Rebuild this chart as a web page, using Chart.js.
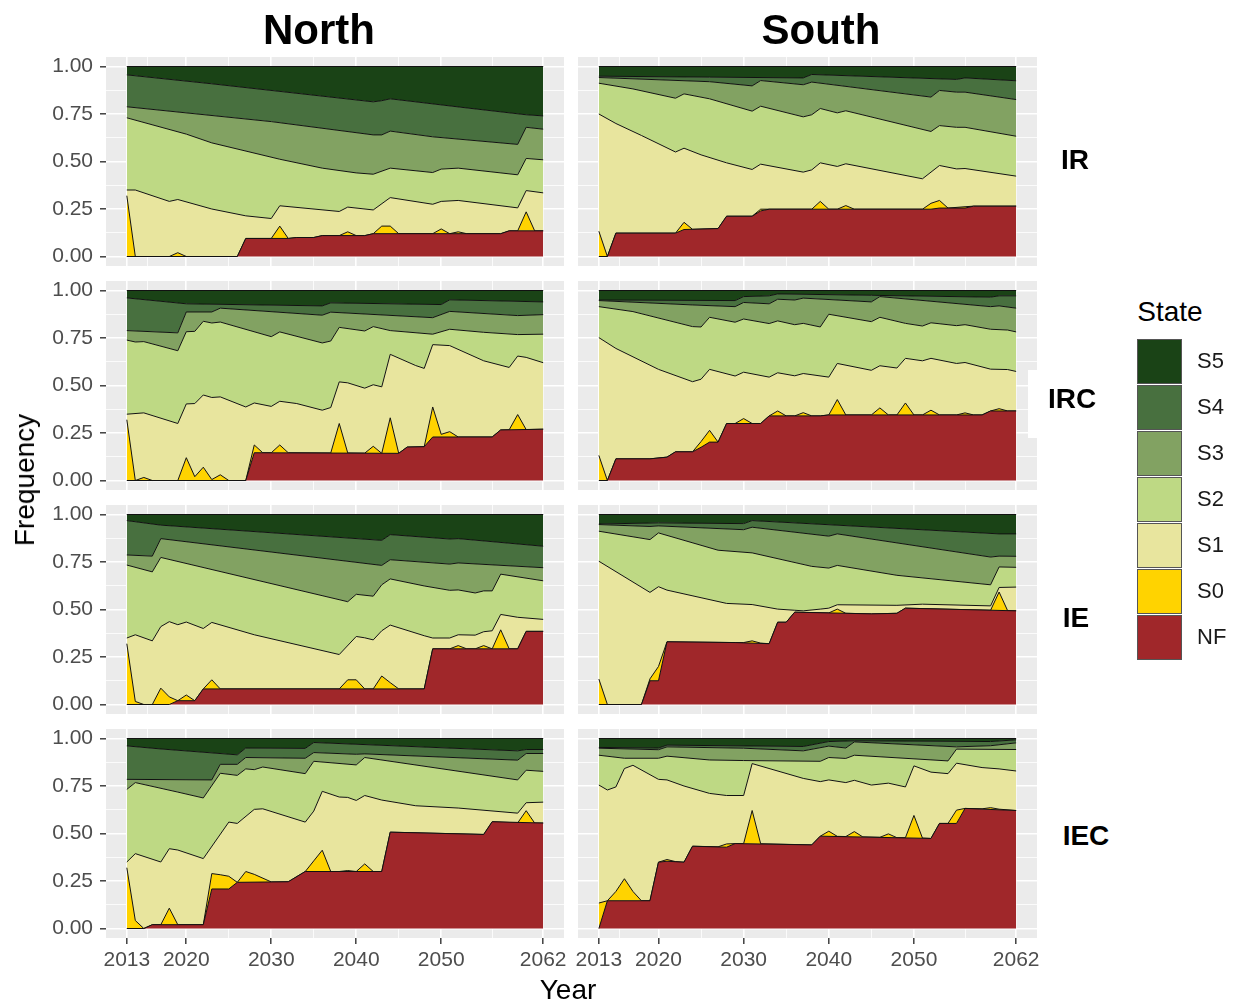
<!DOCTYPE html>
<html>
<head>
<meta charset="utf-8">
<script src="https://cdn.jsdelivr.net/npm/chart.js@4.4.1/dist/chart.umd.min.js"></script>
<style>
  body { margin: 0; background: #fff; width: 1238px; height: 1006px; position: relative; overflow: hidden;
         font-family: "Liberation Sans", Arial, sans-serif; }
  canvas { position: absolute; }
  .t { position: absolute; white-space: nowrap; line-height: 1; transform: translate(-50%, -50%); color: #000; }
  .key { position: absolute; width: 43px; height: 43px; border: 1px solid #555; box-sizing: content-box; }
  .lab { position: absolute; font-size: 22px; line-height: 1; transform: translateY(-50%); color: #1a1a1a; }
</style>
</head>
<body>
<script>
// axis breaks
const YEARS_MAJOR = [2013, 2020, 2030, 2040, 2050, 2062];
const YEARS_MINOR = [2015.4, 2025, 2035, 2045, 2056];
const Y_MAJOR = [0, 0.25, 0.5, 0.75, 1];
const Y_MINOR = [0.125, 0.375, 0.625, 0.875];

const STATES = ['NF', 'S0', 'S1', 'S2', 'S3', 'S4', 'S5'];
const REGIONS = ['North', 'South'];
const SCENARIOS = ['IR', 'IRC', 'IE', 'IEC'];

// each array: [year, upper edge of the state's band] (stacked frequency)
const N_IR_NF = [[2013,0],[2026,0],[2027,0.095],[2032,0.095],[2033,0.10],[2035,0.10],[2036,0.11],[2041,0.11],[2042,0.12],[2057,0.12],[2058,0.135],[2062,0.135]];
const N_IR_S0 = [[2013,0.32],[2014,0],[2018,0],[2019,0.02],[2020,0],[2026,0],[2027,0.095],[2030,0.095],[2031,0.16],[2032,0.095],[2033,0.10],[2035,0.10],[2036,0.11],[2038,0.11],[2039,0.13],[2040,0.11],[2041,0.11],[2042,0.12],[2043,0.16],[2044,0.16],[2045,0.12],[2049,0.12],[2050,0.145],[2051,0.12],[2052,0.13],[2053,0.12],[2057,0.12],[2058,0.135],[2059,0.135],[2060,0.235],[2061,0.135],[2062,0.135]];
const N_IR_S1 = [[2013,0.35],[2014,0.35],[2018,0.29],[2019,0.30],[2023,0.25],[2027,0.214],[2030,0.20],[2031,0.267],[2038,0.237],[2039,0.26],[2042,0.245],[2044,0.31],[2049,0.275],[2050,0.29],[2052,0.295],[2059,0.256],[2060,0.347],[2062,0.335]];
const N_IR_S2 = [[2013,0.73],[2020,0.644],[2023,0.598],[2031,0.512],[2036,0.465],[2040,0.44],[2042,0.433],[2044,0.465],[2049,0.442],[2050,0.46],[2052,0.465],[2059,0.43],[2060,0.516],[2062,0.509]];
const N_IR_S3 = [[2013,0.788],[2030,0.71],[2042,0.64],[2043,0.64],[2044,0.66],[2049,0.63],[2059,0.59],[2060,0.68],[2062,0.67]];
const N_IR_S4 = [[2013,0.956],[2023,0.909],[2042,0.814],[2043,0.82],[2044,0.83],[2053,0.782],[2060,0.746],[2062,0.74]];
const N_IR_S5 = [[2013,1],[2062,1]];

const S_IR_NF = [[2013,0],[2014,0],[2015,0.123],[2022,0.123],[2023,0.142],[2027,0.147],[2028,0.212],[2031,0.212],[2032,0.24],[2033,0.249],[2052,0.249],[2053,0.255],[2056,0.255],[2057,0.265],[2062,0.265]];
const S_IR_S0 = [[2013,0.133],[2014,0],[2015,0.123],[2022,0.123],[2023,0.18],[2024,0.143],[2027,0.147],[2028,0.212],[2031,0.212],[2032,0.249],[2038,0.249],[2039,0.29],[2040,0.249],[2041,0.249],[2042,0.268],[2043,0.249],[2051,0.249],[2052,0.28],[2053,0.295],[2054,0.255],[2056,0.262],[2057,0.265],[2062,0.265]];
const S_IR_S1 = [[2013,0.75],[2015,0.70],[2018,0.637],[2022,0.55],[2023,0.57],[2025,0.535],[2028,0.493],[2031,0.458],[2032,0.486],[2037,0.444],[2038,0.456],[2039,0.493],[2041,0.474],[2042,0.488],[2051,0.409],[2053,0.479],[2055,0.461],[2056,0.463],[2062,0.423]];
const S_IR_S2 = [[2013,0.912],[2017,0.882],[2022,0.833],[2023,0.856],[2026,0.83],[2031,0.765],[2032,0.791],[2037,0.735],[2038,0.746],[2039,0.779],[2041,0.756],[2042,0.767],[2052,0.658],[2053,0.689],[2055,0.68],[2056,0.68],[2062,0.633]];
const S_IR_S3 = [[2013,0.942],[2026,0.92],[2031,0.898],[2032,0.926],[2037,0.904],[2038,0.918],[2052,0.839],[2053,0.874],[2055,0.865],[2056,0.865],[2062,0.826]];
const S_IR_S4 = [[2013,0.949],[2026,0.944],[2037,0.94],[2038,0.958],[2055,0.932],[2056,0.94],[2062,0.925]];
const S_IR_S5 = [[2013,1],[2062,1]];

const N_IRC_NF = [[2013,0],[2027,0],[2028,0.146],[2045,0.143],[2046,0.176],[2048,0.178],[2049,0.229],[2056,0.229],[2057,0.266],[2062,0.27]];
const N_IRC_S0 = [[2013,0.32],[2014,0],[2015,0.016],[2016,0],[2019,0],[2020,0.12],[2021,0.02],[2022,0.07],[2023,0.005],[2024,0.03],[2025,0],[2027,0],[2028,0.187],[2029,0.146],[2030,0.146],[2031,0.187],[2032,0.146],[2037,0.145],[2038,0.30],[2039,0.145],[2041,0.144],[2042,0.18],[2043,0.143],[2044,0.33],[2045,0.143],[2046,0.176],[2048,0.178],[2049,0.387],[2050,0.243],[2051,0.257],[2052,0.229],[2056,0.229],[2057,0.266],[2058,0.267],[2059,0.347],[2060,0.268],[2062,0.27]];
const N_IRC_S1 = [[2013,0.349],[2015,0.356],[2019,0.30],[2020,0.403],[2021,0.405],[2022,0.45],[2023,0.437],[2024,0.44],[2027,0.387],[2028,0.408],[2030,0.39],[2031,0.417],[2033,0.405],[2036,0.37],[2037,0.384],[2038,0.519],[2039,0.514],[2041,0.486],[2042,0.504],[2043,0.493],[2044,0.664],[2047,0.605],[2048,0.59],[2049,0.715],[2051,0.71],[2055,0.63],[2058,0.595],[2059,0.655],[2060,0.648],[2062,0.62]];
const N_IRC_S2 = [[2013,0.739],[2014,0.729],[2015,0.731],[2019,0.683],[2020,0.783],[2021,0.785],[2022,0.838],[2023,0.829],[2024,0.834],[2030,0.757],[2031,0.782],[2036,0.724],[2037,0.734],[2038,0.806],[2041,0.787],[2042,0.81],[2044,0.789],[2049,0.77],[2051,0.796],[2055,0.78],[2059,0.768],[2062,0.77]];
const N_IRC_S3 = [[2013,0.789],[2019,0.777],[2020,0.887],[2023,0.887],[2024,0.907],[2036,0.87],[2037,0.886],[2049,0.857],[2051,0.89],[2059,0.868],[2062,0.873]];
const N_IRC_S4 = [[2013,0.961],[2020,0.93],[2036,0.919],[2037,0.935],[2050,0.926],[2051,0.951],[2062,0.94]];
const N_IRC_S5 = [[2013,1],[2062,1]];

const S_IRC_NF = [[2013,0],[2014,0],[2015,0.114],[2019,0.114],[2021,0.123],[2022,0.151],[2024,0.151],[2025,0.175],[2026,0.202],[2027,0.202],[2028,0.30],[2032,0.30],[2033,0.34],[2039,0.34],[2040,0.345],[2058,0.345],[2059,0.366],[2062,0.366]];
const S_IRC_S0 = [[2013,0.132],[2014,0],[2015,0.114],[2019,0.114],[2021,0.123],[2022,0.151],[2024,0.151],[2025,0.205],[2026,0.264],[2027,0.202],[2028,0.30],[2029,0.30],[2030,0.326],[2031,0.30],[2032,0.30],[2033,0.34],[2034,0.366],[2035,0.34],[2036,0.34],[2037,0.357],[2038,0.34],[2039,0.34],[2040,0.345],[2041,0.426],[2042,0.345],[2045,0.345],[2046,0.382],[2047,0.345],[2048,0.345],[2049,0.408],[2050,0.345],[2051,0.345],[2052,0.37],[2053,0.345],[2055,0.345],[2056,0.356],[2057,0.345],[2058,0.345],[2059,0.366],[2060,0.378],[2061,0.366],[2062,0.366]];
const S_IRC_S1 = [[2013,0.752],[2015,0.695],[2020,0.585],[2024,0.52],[2025,0.533],[2026,0.585],[2029,0.55],[2030,0.57],[2033,0.544],[2034,0.567],[2036,0.551],[2037,0.563],[2040,0.544],[2041,0.616],[2045,0.58],[2046,0.604],[2048,0.592],[2049,0.643],[2051,0.63],[2052,0.643],[2055,0.616],[2056,0.621],[2059,0.586],[2061,0.584],[2062,0.574]];
const S_IRC_S2 = [[2013,0.915],[2017,0.889],[2024,0.81],[2025,0.808],[2026,0.859],[2029,0.833],[2030,0.85],[2033,0.826],[2034,0.84],[2036,0.82],[2037,0.827],[2039,0.808],[2040,0.875],[2045,0.836],[2046,0.859],[2049,0.827],[2051,0.813],[2052,0.83],[2055,0.815],[2056,0.82],[2059,0.796],[2061,0.792],[2062,0.782]];
const S_IRC_S3 = [[2013,0.947],[2024,0.924],[2029,0.915],[2030,0.937],[2033,0.93],[2034,0.954],[2036,0.95],[2037,0.96],[2045,0.94],[2046,0.968],[2059,0.915],[2060,0.919],[2062,0.907]];
const S_IRC_S4 = [[2013,0.95],[2029,0.947],[2030,0.968],[2033,0.972],[2034,0.982],[2045,0.975],[2046,0.974],[2059,0.965],[2060,0.972],[2062,0.972]];
const S_IRC_S5 = [[2013,1],[2062,1]];

const N_IE_NF = [[2013,0],[2018,0],[2019,0.02],[2021,0.02],[2022,0.082],[2048,0.082],[2049,0.293],[2059,0.293],[2060,0.385],[2062,0.385]];
const N_IE_S0 = [[2013,0.32],[2014,0.016],[2015,0],[2016,0],[2017,0.086],[2018,0.04],[2019,0.02],[2020,0.05],[2021,0.02],[2022,0.082],[2023,0.13],[2024,0.082],[2038,0.082],[2039,0.13],[2040,0.13],[2041,0.082],[2042,0.082],[2043,0.15],[2044,0.115],[2045,0.082],[2048,0.082],[2049,0.293],[2051,0.293],[2052,0.31],[2053,0.293],[2054,0.293],[2055,0.31],[2056,0.293],[2057,0.393],[2058,0.293],[2059,0.293],[2060,0.385],[2062,0.385]];
const N_IE_S1 = [[2013,0.35],[2014,0.367],[2016,0.335],[2017,0.41],[2018,0.436],[2019,0.42],[2020,0.434],[2022,0.40],[2023,0.432],[2028,0.367],[2038,0.263],[2040,0.358],[2041,0.351],[2042,0.34],[2043,0.388],[2044,0.418],[2048,0.362],[2049,0.35],[2051,0.35],[2052,0.367],[2054,0.365],[2055,0.383],[2056,0.388],[2057,0.474],[2059,0.459],[2062,0.448]];
const N_IE_S2 = [[2013,0.734],[2016,0.698],[2017,0.774],[2039,0.541],[2040,0.58],[2042,0.57],[2043,0.63],[2044,0.661],[2048,0.624],[2051,0.601],[2052,0.603],[2054,0.587],[2055,0.598],[2056,0.598],[2057,0.686],[2062,0.651]];
const N_IE_S3 = [[2013,0.787],[2016,0.781],[2017,0.873],[2043,0.732],[2044,0.762],[2051,0.739],[2052,0.745],[2062,0.72]];
const N_IE_S4 = [[2013,0.968],[2017,0.944],[2043,0.864],[2044,0.894],[2051,0.871],[2052,0.873],[2062,0.833]];
const N_IE_S5 = [[2013,1],[2062,1]];

const S_IE_NF = [[2013,0],[2018,0],[2019,0.125],[2020,0.125],[2021,0.33],[2029,0.326],[2033,0.32],[2034,0.433],[2035,0.433],[2036,0.486],[2045,0.477],[2048,0.48],[2049,0.507],[2062,0.493]];
const S_IE_S0 = [[2013,0.134],[2014,0],[2018,0],[2019,0.135],[2020,0.2],[2021,0.33],[2029,0.326],[2030,0.326],[2031,0.335],[2032,0.323],[2033,0.32],[2034,0.433],[2035,0.433],[2036,0.486],[2040,0.482],[2041,0.502],[2042,0.48],[2045,0.477],[2048,0.48],[2049,0.507],[2059,0.496],[2060,0.592],[2061,0.494],[2062,0.493]];
const S_IE_S1 = [[2013,0.754],[2019,0.59],[2020,0.62],[2021,0.602],[2028,0.532],[2031,0.526],[2034,0.502],[2036,0.496],[2037,0.493],[2039,0.502],[2040,0.507],[2041,0.525],[2048,0.522],[2051,0.528],[2059,0.519],[2060,0.616],[2062,0.618]];
const S_IE_S2 = [[2013,0.912],[2019,0.868],[2020,0.903],[2027,0.812],[2031,0.798],[2038,0.727],[2040,0.718],[2041,0.732],[2048,0.68],[2059,0.63],[2060,0.724],[2062,0.722]];
const S_IE_S3 = [[2013,0.947],[2019,0.937],[2020,0.94],[2030,0.92],[2031,0.933],[2040,0.886],[2041,0.898],[2059,0.776],[2060,0.781],[2062,0.78]];
const S_IE_S4 = [[2013,0.95],[2020,0.956],[2030,0.952],[2031,0.968],[2060,0.898],[2062,0.898]];
const S_IE_S5 = [[2013,1],[2062,1]];

const N_IEC_NF = [[2013,0],[2015,0],[2016,0.02],[2022,0.02],[2023,0.208],[2025,0.208],[2026,0.243],[2032,0.246],[2034,0.30],[2043,0.30],[2044,0.507],[2055,0.495],[2056,0.562],[2062,0.555]];
const N_IEC_S0 = [[2013,0.32],[2014,0.042],[2015,0],[2016,0.02],[2017,0.02],[2018,0.107],[2019,0.02],[2022,0.02],[2023,0.289],[2024,0.283],[2025,0.275],[2026,0.243],[2027,0.30],[2028,0.285],[2030,0.245],[2032,0.246],[2034,0.30],[2035,0.356],[2036,0.412],[2037,0.30],[2038,0.30],[2039,0.305],[2040,0.30],[2041,0.34],[2042,0.30],[2043,0.30],[2044,0.507],[2055,0.495],[2056,0.562],[2059,0.556],[2060,0.62],[2061,0.555],[2062,0.555]];
const N_IEC_S1 = [[2013,0.35],[2014,0.394],[2017,0.35],[2018,0.42],[2019,0.413],[2022,0.368],[2025,0.56],[2026,0.553],[2028,0.627],[2029,0.63],[2034,0.56],[2035,0.618],[2036,0.722],[2038,0.692],[2039,0.69],[2040,0.674],[2041,0.70],[2043,0.676],[2047,0.646],[2052,0.634],[2059,0.607],[2060,0.662],[2062,0.665]];
const N_IEC_S2 = [[2013,0.732],[2014,0.768],[2019,0.718],[2022,0.687],[2024,0.817],[2026,0.806],[2027,0.84],[2028,0.836],[2029,0.85],[2034,0.815],[2035,0.88],[2040,0.861],[2041,0.90],[2059,0.782],[2060,0.833],[2062,0.827]];
const N_IEC_S3 = [[2013,0.785],[2023,0.782],[2024,0.864],[2026,0.864],[2027,0.90],[2034,0.896],[2035,0.926],[2040,0.917],[2041,0.919],[2059,0.886],[2060,0.921],[2062,0.921]];
const N_IEC_S4 = [[2013,0.961],[2017,0.945],[2026,0.914],[2027,0.95],[2034,0.948],[2035,0.979],[2059,0.935],[2060,0.942],[2062,0.942]];
const N_IEC_S5 = [[2013,1],[2062,1]];

const S_IEC_NF = [[2013,0],[2014,0.146],[2019,0.146],[2020,0.349],[2021,0.354],[2023,0.349],[2024,0.433],[2028,0.428],[2029,0.447],[2038,0.44],[2039,0.486],[2052,0.474],[2053,0.553],[2055,0.553],[2056,0.632],[2062,0.621]];
const S_IEC_S0 = [[2013,0.134],[2014,0.146],[2015,0.195],[2016,0.262],[2017,0.195],[2018,0.146],[2019,0.146],[2020,0.349],[2021,0.363],[2022,0.352],[2023,0.349],[2024,0.433],[2027,0.43],[2028,0.445],[2029,0.447],[2030,0.447],[2031,0.621],[2032,0.446],[2038,0.44],[2039,0.486],[2040,0.512],[2041,0.485],[2042,0.484],[2043,0.51],[2044,0.482],[2046,0.48],[2047,0.498],[2048,0.478],[2049,0.478],[2050,0.595],[2051,0.476],[2052,0.474],[2053,0.553],[2054,0.553],[2055,0.623],[2056,0.632],[2058,0.63],[2059,0.636],[2060,0.628],[2062,0.621]];
const S_IEC_S1 = [[2013,0.755],[2014,0.729],[2015,0.745],[2016,0.842],[2017,0.859],[2020,0.785],[2021,0.782],[2023,0.75],[2026,0.711],[2028,0.70],[2030,0.70],[2031,0.868],[2037,0.79],[2039,0.773],[2040,0.782],[2042,0.768],[2043,0.78],[2045,0.755],[2047,0.765],[2049,0.745],[2050,0.856],[2052,0.823],[2054,0.815],[2055,0.87],[2058,0.847],[2060,0.84],[2062,0.829]];
const S_IEC_S2 = [[2013,0.912],[2016,0.896],[2020,0.896],[2021,0.907],[2026,0.887],[2030,0.884],[2039,0.88],[2040,0.90],[2042,0.895],[2043,0.912],[2054,0.882],[2055,0.944],[2062,0.942]];
const S_IEC_S3 = [[2013,0.949],[2020,0.941],[2021,0.956],[2030,0.949],[2037,0.935],[2040,0.96],[2042,0.95],[2043,0.982],[2055,0.956],[2059,0.962],[2062,0.977]];
const S_IEC_S4 = [[2013,0.953],[2020,0.95],[2021,0.965],[2037,0.958],[2040,0.984],[2043,0.988],[2059,0.984],[2062,0.993]];
const S_IEC_S5 = [[2013,1],[2062,1]];

// rows = scenarios, cols = regions
const PANELS = [
  [[N_IR_NF, N_IR_S0, N_IR_S1, N_IR_S2, N_IR_S3, N_IR_S4, N_IR_S5],
   [S_IR_NF, S_IR_S0, S_IR_S1, S_IR_S2, S_IR_S3, S_IR_S4, S_IR_S5]],
  [[N_IRC_NF, N_IRC_S0, N_IRC_S1, N_IRC_S2, N_IRC_S3, N_IRC_S4, N_IRC_S5],
   [S_IRC_NF, S_IRC_S0, S_IRC_S1, S_IRC_S2, S_IRC_S3, S_IRC_S4, S_IRC_S5]],
  [[N_IE_NF, N_IE_S0, N_IE_S1, N_IE_S2, N_IE_S3, N_IE_S4, N_IE_S5],
   [S_IE_NF, S_IE_S0, S_IE_S1, S_IE_S2, S_IE_S3, S_IE_S4, S_IE_S5]],
  [[N_IEC_NF, N_IEC_S0, N_IEC_S1, N_IEC_S2, N_IEC_S3, N_IEC_S4, N_IEC_S5],
   [S_IEC_NF, S_IEC_S0, S_IEC_S1, S_IEC_S2, S_IEC_S3, S_IEC_S4, S_IEC_S5]],
];

const FILLS = ['#a0272a', '#ffd300', '#e8e59e', '#bed984', '#82a262', '#48703f', '#1a4316'];
const FONT = '"Liberation Sans", Arial, sans-serif';

// panel geometry (pixels)
const PANEL_LEFT = [106, 578];
const PANEL_W = [458, 459];
const PANEL_TOP0 = 57, PANEL_STEP = 224, PANEL_H = 209;
const Y_AXIS_W = 66, X_AXIS_H = 40, MARGIN = 14;

const panelBg = {
  id: 'panelBg',
  beforeDraw(chart) {
    const { ctx, chartArea: a } = chart;
    ctx.save();
    ctx.fillStyle = '#ebebeb';
    ctx.fillRect(a.left, a.top, a.right - a.left, a.bottom - a.top);
    ctx.restore();
  }
};

function makePanel(col, row, series) {
  const showY = col === 0;
  const showX = row === 3;
  const yw = showY ? Y_AXIS_W : 0;
  const xh = showX ? X_AXIS_H : 0;

  const canvas = document.createElement('canvas');
  const w = PANEL_W[col] + yw + 2 * MARGIN;
  const h = PANEL_H + xh + 2 * MARGIN;
  canvas.width = w;
  canvas.height = h;
  canvas.style.left = (PANEL_LEFT[col] - yw - MARGIN) + 'px';
  canvas.style.top = (PANEL_TOP0 + PANEL_STEP * row - MARGIN) + 'px';
  canvas.style.width = w + 'px';
  canvas.style.height = h + 'px';
  document.body.appendChild(canvas);

  const datasets = series.map((pts, i) => ({
    label: STATES[i],
    data: pts.map(([x, y]) => ({ x, y })),
    backgroundColor: FILLS[i],
    borderColor: '#111',
    borderWidth: 1,
    pointRadius: 0,
    tension: 0,
    fill: i === 0 ? 'origin' : '-1',
  }));

  new Chart(canvas.getContext('2d'), {
    type: 'line',
    data: { datasets },
    options: {
      responsive: false,
      animation: false,
      events: [],
      devicePixelRatio: 1,
      layout: { padding: MARGIN },
      plugins: { legend: { display: false }, tooltip: { enabled: false } },
      scales: {
        x: {
          type: 'linear',
          min: 2010.55,
          max: 2064.45,
          afterBuildTicks: (s) => { s.ticks = YEARS_MAJOR.concat(YEARS_MINOR).map(v => ({ value: v })); },
          afterFit: (s) => { s.height = xh; s.paddingLeft = 0; s.paddingRight = 0; },
          border: { display: false },
          grid: {
            color: '#ffffff',
            lineWidth: (c) => YEARS_MAJOR.includes(c.tick.value) ? 1.6 : 0.8,
            drawTicks: showX,
            tickLength: 6,
            tickWidth: 1.4,
            tickColor: (c) => YEARS_MAJOR.includes(c.tick.value) ? '#333333' : 'rgba(0,0,0,0)',
          },
          ticks: {
            display: showX,
            autoSkip: false,
            maxRotation: 0,
            padding: 4,
            color: '#4d4d4d',
            font: { size: 21, family: FONT },
            callback: (v) => YEARS_MAJOR.includes(v) ? String(v) : '',
          },
        },
        y: {
          type: 'linear',
          min: -0.05,
          max: 1.05,
          afterBuildTicks: (s) => { s.ticks = Y_MAJOR.concat(Y_MINOR).map(v => ({ value: v })); },
          afterFit: (s) => { s.width = yw; s.paddingTop = 0; s.paddingBottom = 0; },
          border: { display: false },
          grid: {
            color: '#ffffff',
            lineWidth: (c) => Y_MAJOR.includes(c.tick.value) ? 1.6 : 0.8,
            drawTicks: showY,
            tickLength: 6,
            tickWidth: 1.4,
            tickColor: (c) => Y_MAJOR.includes(c.tick.value) ? '#333333' : 'rgba(0,0,0,0)',
          },
          ticks: {
            display: showY,
            autoSkip: false,
            padding: 7,
            color: '#4d4d4d',
            font: { size: 21, family: FONT },
            callback: (v) => Y_MAJOR.includes(v) ? v.toFixed(2) : '',
          },
        },
      },
    },
    plugins: [panelBg],
  });
}

PANELS.forEach((rowPanels, r) => rowPanels.forEach((series, c) => makePanel(c, r, series)));

// text: strips, axis titles, legend
function addText(txt, x, y, size, bold, rotate) {
  const d = document.createElement('div');
  d.className = 't';
  d.textContent = txt;
  d.style.left = x + 'px';
  d.style.top = y + 'px';
  d.style.fontSize = size + 'px';
  if (bold) d.style.fontWeight = 'bold';
  if (rotate) d.style.transform = 'translate(-50%, -50%) rotate(-90deg)';
  document.body.appendChild(d);
}

// small white patch next to the IRC label, as in the source figure
const patch = document.createElement('div');
patch.style.cssText = 'position:absolute;left:1028px;top:370px;width:10px;height:68px;background:#fff;';
document.body.appendChild(patch);

addText(REGIONS[0], 319, 30, 42, true);
addText(REGIONS[1], 821, 30, 42, true);
const stripX = [1075, 1072, 1076, 1086];
const stripY = [160, 399, 618, 836];
SCENARIOS.forEach((s, i) => addText(s, stripX[i], stripY[i], 28, true));
addText('Frequency', 25, 480, 28, false, true);
addText('Year', 568, 990, 28, false);

addText('State', 1170, 312, 28, false);
STATES.slice().reverse().forEach((s, i) => {
  const k = document.createElement('div');
  k.className = 'key';
  k.style.left = '1137px';
  k.style.top = (339 + 46 * i) + 'px';
  k.style.background = FILLS[STATES.length - 1 - i];
  document.body.appendChild(k);
  const l = document.createElement('div');
  l.className = 'lab';
  l.textContent = s;
  l.style.left = '1197px';
  l.style.top = (339 + 46 * i + 22) + 'px';
  document.body.appendChild(l);
});
</script>
</body>
</html>
